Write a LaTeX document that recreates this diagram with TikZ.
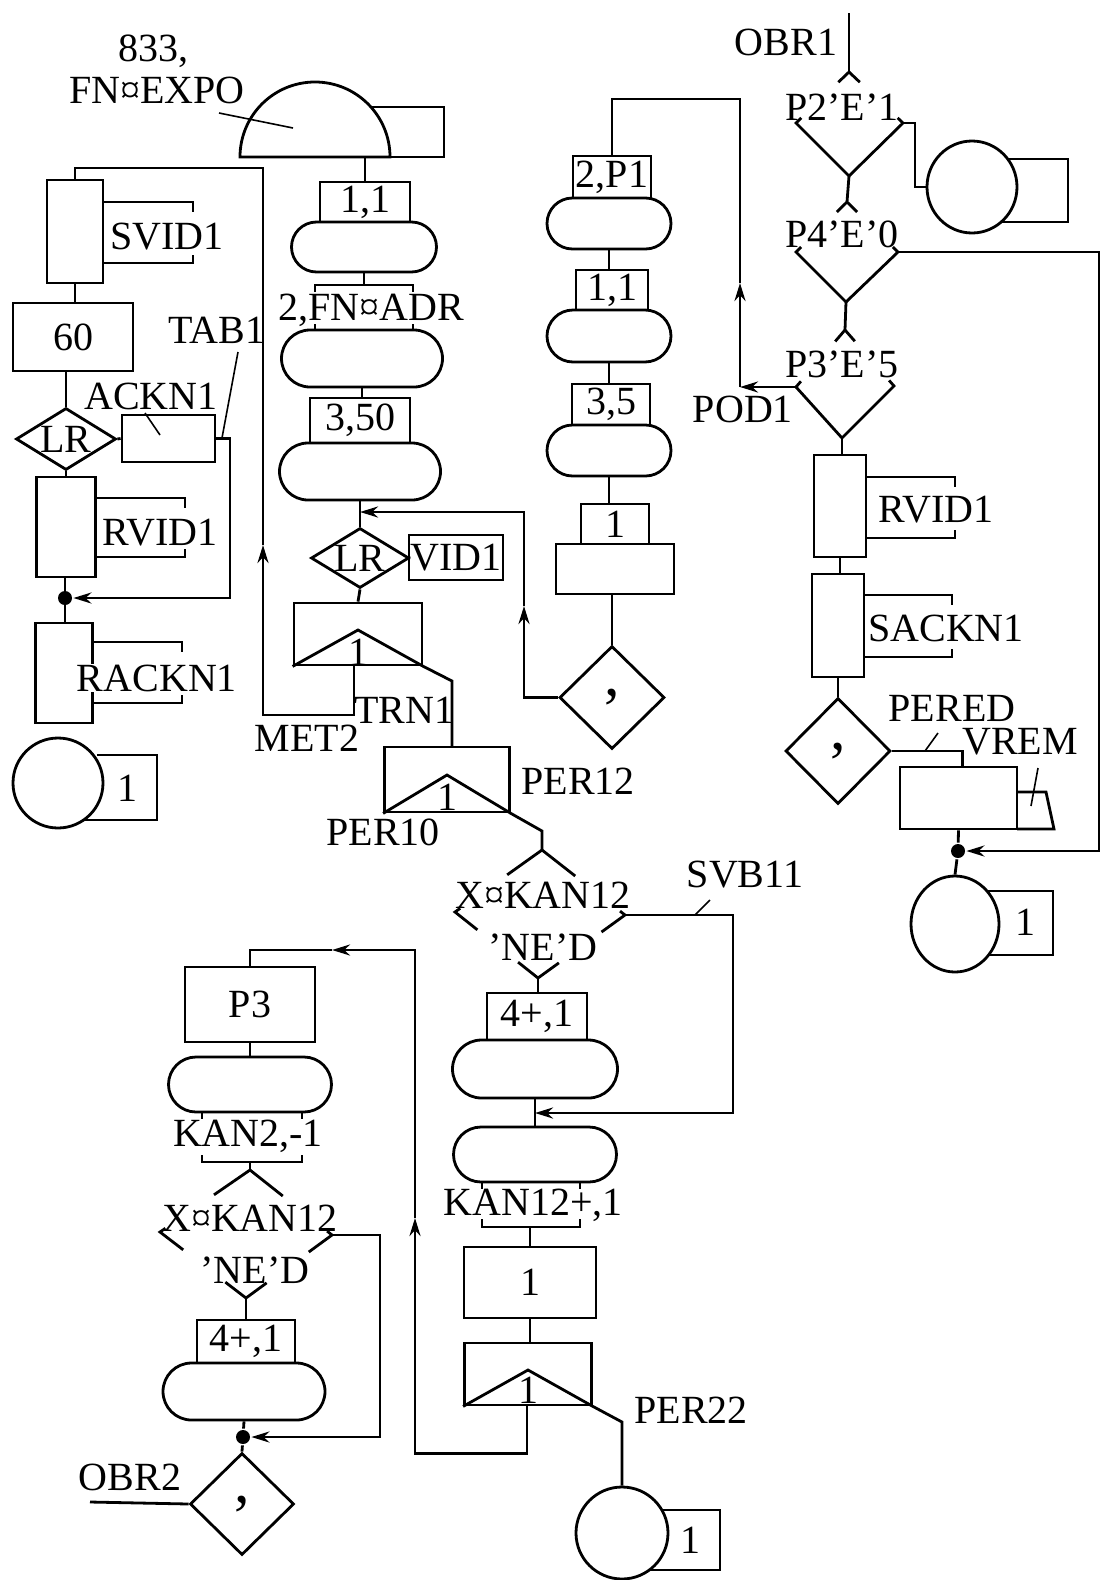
\documentclass[tikz,border=0pt]{standalone}
\usepackage{fontspec}
\setmainfont{Liberation Serif}
\usetikzlibrary{arrows.meta,positioning,shapes.geometric,shapes.misc,calc}
\tikzset{
  blk/.style={draw,rectangle,inner sep=0pt,fill=white},
  ovl/.style={draw,rounded rectangle,inner sep=0pt},
  dia/.style={draw,diamond,inner sep=0pt},
  term/.style={draw,ellipse,inner sep=0pt,fill=white},
  lbl/.style={inner sep=1pt},
  ldr/.style={line width=1.6pt},
  flow/.style={-{Stealth[length=18pt,width=11pt]}},
  dot/.style={circle,fill,inner sep=0pt,minimum size=14pt},
  cma/.style={font=\fontsize{62}{62}\selectfont,inner sep=0pt},
}
\begin{document}
\begin{tikzpicture}[x=1pt,y=-1pt,line width=2.8pt,font=\fontsize{40}{44}\selectfont]
  \useasboundingbox (0,0) rectangle (1102,1580);

  % Generate
  \draw (360,107) rectangle (444,157);
  \draw[fill=white] (240,157) arc[start angle=180,end angle=0,radius=75pt] -- cycle;
  \coordinate (gen) at (365,157);
  \node[inner sep=0pt,anchor=base] (gen-a) at (153,61) {833,};
  \node[inner sep=0pt,anchor=base] (gen-b) at (157,103) {FN¤EXPO};
  \draw[ldr] (219,113) -- (293,128);

  % Blocks with brackets
  \foreach \nm/\cx/\cy/\w/\h/\xr/\yt/\yb/\lx/\ly/\txt in {
      svid/75/231.5/56/103/193/202/263/167/237/SVID1,
      rvida/66/527/59/100/185/498/557/160/533/RVID1,
      rackn/64/673/57/100/182/642/703/157/678/RACKN1,
      rvidb/840/506/52/102/955/477/538/936/510/RVID1,
      sackn/838/625.5/52/103/952/595/657/946/628/SACKN1}{
    \node[blk,minimum width=\w,minimum height=\h] (\nm) at (\cx,\cy) {};
    \draw ({\cx+\w/2},\yt) -- (\xr,\yt) -- (\xr,\yt+10);
    \draw ({\cx+\w/2},\yb) -- (\xr,\yb) -- (\xr,\yb-8);
    \node[lbl,fill=white] (\nm-l) at (\lx,\ly) {\txt};
  }

  % Left column
  \node[blk,minimum width=120,minimum height=68] (b60) at (73,337) {60};
  \node[dia,minimum width=100,minimum height=62] (lra) at (66,439) {};
  \node (lra-t) at (lra) {LR};
  \node[blk,minimum width=93,minimum height=47] (ackn) at (168.5,438.5) {};
  \node[lbl] (ackn-l) at (151,396) {ACKN1};
  \draw[ldr] (145,413) -- (160,435);
  \node[lbl] (tab) at (217,330) {TAB1};
  \draw[ldr] (238,352) -- (222,438);
  \node[dot] (d1) at (65,598) {};
  \draw (97,755) -- (157,755) -- (157,820) -- (80,820);
  \node[term,minimum width=90,minimum height=90] (c1) at (58,783) {};
  \node (c1-l) at (127,788) {1};

  \draw (svid.south) -- (svid.south |- b60.north);
  \draw (lra.north) -- (lra.north |- b60.south);
  \draw (lra.south) -- (lra.south |- rvida.north);
  \draw (lra.east) -- (ackn.west);
  \draw (d1 |- rvida.south) -- (d1 |- rackn.north);
  \draw[flow] (ackn.east) -- (230,438.5) -- (230,598) -- (d1.east);

  % Middle column
  \node[blk,minimum width=90,minimum height=40] (a11) at (365,202) {1,1};
  \node[ovl,minimum width=145,minimum height=50] (ova) at (364,247) {};
  \draw (gen) -- (a11.north);
  \draw (ova.south) -- ++(0,13);
  \draw (315,292) -- (315,285) -- (413,285) -- (413,292);
  \node[lbl] (fnadr) at (371,310) {2,FN¤ADR};
  \node[ovl,minimum width=161,minimum height=57] (ovb) at (362,358.5) {};
  \draw (315,330) -- (315,324);
  \draw (413,330) -- (413,324);
  \node[blk,minimum width=100,minimum height=45] (a350) at (360,420.5) {3,50};
  \draw (ovb.south) -- (ovb.south |- a350.north);
  \node[ovl,minimum width=161,minimum height=57] (ovc) at (360,471.5) {};
  \coordinate (j1) at (360,512);
  \node[dia,minimum width=98,minimum height=60] (lrb) at (360,558) {};
  \node (lrb-t) at (lrb) {LR};
  \node[blk,minimum width=94,minimum height=45] (vid) at (456,557.5) {VID1};
  \draw (ovc.south) -- (lrb.north);
  \draw (lrb.east) -- (vid.west);

  % Transfer TRN1
  \node[blk,minimum width=128,minimum height=62] (tra) at (358,634) {};
  \draw (lrb.south) -- (tra.north);
  \draw (tra.south west) -- (358,630) -- (tra.south east) -- (452,681) -- (452,747);
  \node (tra-1) at (358,652) {1};
  \node[lbl] (trn) at (404,710) {TRN1};
  \node[lbl] (met) at (307,738) {MET2};
  \draw[flow] ($(tra.south)+(-4,0)$) |- (263,715) -- (263,545);
  \draw (263,545) -- (263,168) -| (svid.north);

  % Transfer PER10
  \node[blk,minimum width=125,minimum height=65] (trb) at (447,779.5) {};
  \draw (trb.south west) -- (447,775) -- (trb.south east) -- (542,831) -- (542,850);
  \node (trb-1) at (447,797) {1};
  \node[lbl] (per10) at (383,832) {PER10};
  \node[lbl] (per12) at (578,781) {PER12};

  % Tests X KAN12
  \foreach \nm/\nx/\ny/\wx/\wy/\ex/\ey/\sx/\sy in {ka/542/850/455/912/625/915/538/978, kb/250/1170/160/1232/332/1235/246/1298}{
    \coordinate (\nm-n) at (\nx,\ny);
    \coordinate (\nm-w) at (\wx,\wy);
    \coordinate (\nm-e) at (\ex,\ey);
    \coordinate (\nm-s) at (\sx,\sy);
    \draw ($(\nm-n)!0.4!(\nm-w)$) -- (\nm-n) -- ($(\nm-n)!0.4!(\nm-e)$);
    \draw ($(\nm-w)!0.06!(\nm-n)$) -- (\nm-w) -- ($(\nm-w)!0.27!(\nm-s)$);
    \draw ($(\nm-e)!0.06!(\nm-n)$) -- (\nm-e) -- ($(\nm-e)!0.27!(\nm-s)$);
    \draw ($(\nm-s)!0.24!(\nm-w)$) -- (\nm-s) -- ($(\nm-s)!0.24!(\nm-e)$);
  }
  \node (ka-t) at (543,895) {X¤KAN12};
  \node (ka-b) at (543,947) {'NE'D};
  \node (kb-t) at (250,1218) {X¤KAN12};
  \node (kb-b) at (255,1270) {'NE'D};
  \node[lbl] (svb) at (745,875) {SVB11};
  \draw[ldr] (710,900) -- (695,915);

  \node[blk,minimum width=100,minimum height=47] (b41) at (537,1016.5) {4+,1};
  \draw (ka-s) -- (ka-s |- b41.north);
  \node[ovl,minimum width=165,minimum height=58] (ovd) at (535,1069) {};
  \coordinate (j2) at (535,1113);
  \node[ovl,minimum width=163,minimum height=55] (ove) at (535,1154.5) {};
  \draw (ovd.south) -- (ove.north);
  \draw[flow] (ka-e) -- (733,915) |- (j2);
  \node[lbl] (kan12) at (533,1205) {KAN12+,1};
  \draw (482,1182) -- (482,1189);
  \draw (580,1182) -- (580,1189);
  \draw (482,1219) -- (482,1227) -- (580,1227) -- (580,1219);
  \node[blk,minimum width=132,minimum height=71] (b1) at (530,1282.5) {1};
  \draw (b1.north) -- ++(0,-20);

  % Transfer PER22
  \node[blk,minimum width=127,minimum height=62] (trc) at (528,1374) {};
  \draw (b1.south) -- (b1.south |- trc.north);
  \draw (622,1510) -- (720,1510) -- (720,1570) -- (640,1570);
  \node[term,minimum width=92,minimum height=92] (c4) at (622,1533) {};
  \node (c4-l) at (690,1540) {1};
  \draw (trc.south west) -- (528,1370) -- (trc.south east) -- (622,1422) -- (c4.north);
  \node (trc-1) at (528,1390) {1};
  \node[lbl] (per22) at (691,1410) {PER22};
  \draw[flow] ($(trc.south)+(-1,0)$) -- ++(0,47) -| (415,1218);
  \draw[flow] (415,1218) |- (332,950);
  \draw (332,950) -| (250,967);

  % Bottom left column
  \node[blk,minimum width=130,minimum height=75] (p3) at (250,1004.5) {P3};
  \node[ovl,minimum width=163,minimum height=55] (ovf) at (250,1084.5) {};
  \draw (p3.south) -- (ovf.north);
  \draw (202,1112) -- (202,1119);
  \draw (302,1112) -- (302,1119);
  \node[lbl] (kan2) at (248,1136) {KAN2,-1};
  \draw (202,1155) -- (202,1162) -- (302,1162) -- (302,1155);
  \draw (250,1162) -- (kb-n);
  \node[blk,minimum width=98,minimum height=43] (b42) at (246,1341.5) {4+,1};
  \draw (kb-s) -- (kb-s |- b42.north);
  \node[ovl,minimum width=162,minimum height=57] (ovg) at (244,1391.5) {};
  \node[dot] (d3) at (243,1437) {};
  \node[dia,minimum width=104,minimum height=102] (cm3) at (242,1504) {};
  \node[cma] (cm3-t) at (cm3) {,};
  \draw (ovg.south) -- (d3) -- (cm3.north);
  \draw[flow] (kb-e) -- (380,1235) -- (380,1437) -- (d3.east);
  \coordinate (obr2) at (90,1502);
  \draw (obr2) -- (cm3.west);
  \node[lbl] (obr2-l) at (130,1477) {OBR2};

  % Third column
  \node[blk,minimum width=78,minimum height=42] (p1) at (612,177) {2,P1};
  \node[ovl,minimum width=124,minimum height=51] (ovh) at (609,223.5) {};
  \node[blk,minimum width=72,minimum height=40] (c11) at (612,290) {1,1};
  \draw (ovh.south) -- (ovh.south |- c11.north);
  \node[ovl,minimum width=124,minimum height=52] (ovi) at (609,336) {};
  \node[blk,minimum width=78,minimum height=41] (c35) at (611,404.5) {3,5};
  \draw (ovi.south) -- (ovi.south |- c35.north);
  \node[ovl,minimum width=124,minimum height=51] (ovj) at (609,450.5) {};
  \node[blk,minimum width=68,minimum height=40] (c1b) at (615,524) {1};
  \draw (ovj.south) -- (ovj.south |- c1b.north);
  \node[blk,minimum width=118,minimum height=50] (cbig) at (615,569) {};
  \node[dia,minimum width=105,minimum height=103] (cm1) at (612,697.5) {};
  \node[cma] (cm1-t) at (cm1) {,};
  \draw (cm1.north) -- (cm1.north |- cbig.south);
  \draw[flow] (cm1.west) -| (524,606);
  \draw[flow] (524,606) |- (j1);

  % Right column tests
  \foreach \nm/\nx/\ny/\wx/\wy/\ex/\ey/\sx/\sy in {pa/849/72/796/123/903/123/849/176, pb/847/202/796/252/898/252/846/302, pc/845/330/796/387/894/386/842/438}{
    \coordinate (\nm-n) at (\nx,\ny);
    \coordinate (\nm-w) at (\wx,\wy);
    \coordinate (\nm-e) at (\ex,\ey);
    \coordinate (\nm-s) at (\sx,\sy);
    \draw ($(\nm-n)!0.2!(\nm-w)$) -- (\nm-n) -- ($(\nm-n)!0.2!(\nm-e)$);
    \draw ($(\nm-w)!0.1!(\nm-n)$) -- (\nm-w) -- (\nm-s) -- (\nm-e) -- ($(\nm-e)!0.1!(\nm-n)$);
  }
  \node (pa-t) at (842,107) {P2'E'1};
  \node (pb-t) at (842,234) {P4'E'0};
  \node (pc-t) at (842,364) {P3'E'5};
  \coordinate (obr1) at (849,13);
  \draw (obr1) -- (pa-n);
  \node[lbl] (obr1-l) at (786,42) {OBR1};
  \draw (972,159) -- (1068,159) -- (1068,222) -- (990,222);
  \node[term,minimum width=90,minimum height=92] (c2) at (972,187) {};
  \draw (pa-e) -- (915,123) |- (c2.west);
  \draw (pa-s) -- (pb-n);
  \draw (pb-s) -- (pc-n);
  \node[lbl] (pod) at (743,409) {POD1};
  \draw[flow] (pc-w) -- (740,387);
  \draw[flow] (740,387) -- (740,283);
  \draw (740,283) -- (740,99) -| (p1.north);

  \draw (pc-s) -- (pc-s |- rvidb.north);
  \draw (rvidb.south) -- (rvidb.south |- sackn.north);
  \node[dia,minimum width=105,minimum height=106] (cm2) at (838,751) {};
  \node[cma] (cm2-t) at (cm2) {,};
  \draw (sackn.south) -- (cm2.north);
  \node[blk,minimum width=117,minimum height=62] (vrem) at (958.5,798) {};
  \draw (cm2.east) -| ($(vrem.north)+(4,0)$);
  \draw (1017,792) -- (1046,792) -- (1054,829) -- (1017,829);
  \node[lbl] (pered) at (952,708) {PERED};
  \draw[ldr] (938,733) -- (925,751);
  \node[lbl] (vrem-l) at (1020,742) {VREM};
  \draw[ldr] (1038,768) -- (1031,806);
  \node[dot] (d2) at (958,851) {};
  \draw (985,891) -- (1053,891) -- (1053,955) -- (975,955);
  \node[term,minimum width=88,minimum height=96] (c3) at (955,924) {};
  \node (c3-l) at (1025,922) {1};
  \draw (vrem.south) -- (d2) -- (c3.north);
  \draw[flow] (pb-e) -- (1099,252) |- (d2.east);
\end{tikzpicture}
\end{document}
